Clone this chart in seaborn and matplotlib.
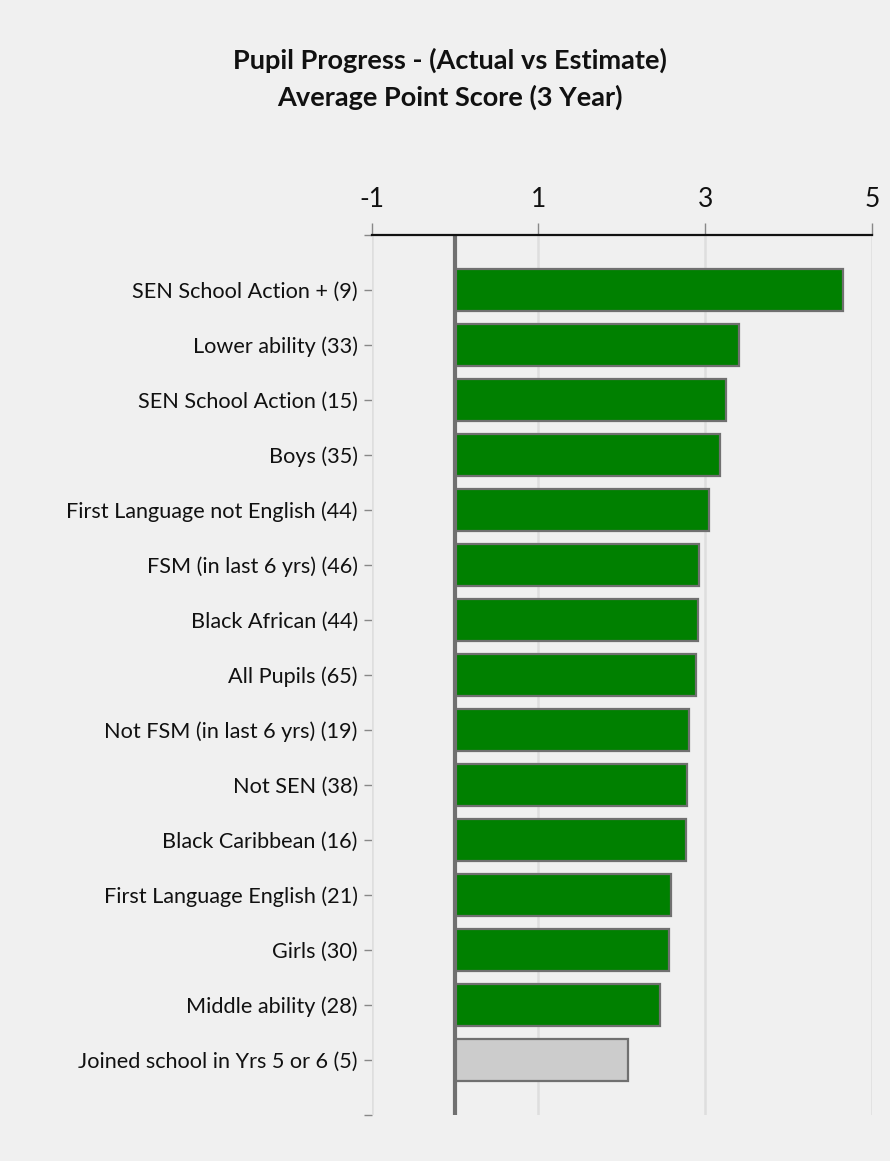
import matplotlib
matplotlib.use("Agg")
import matplotlib.pyplot as plt
import seaborn as sns
import pandas as pd

categories = [
    "SEN School Action + (9)",
    "Lower ability (33)",
    "SEN School Action (15)",
    "Boys (35)",
    "First Language not English (44)",
    "FSM (in last 6 yrs) (46)",
    "Black African (44)",
    "All Pupils (65)",
    "Not FSM (in last 6 yrs) (19)",
    "Not SEN (38)",
    "Black Caribbean (16)",
    "First Language English (21)",
    "Girls (30)",
    "Middle ability (28)",
    "Joined school in Yrs 5 or 6 (5)",
]
scores = [4.65, 3.41, 3.25, 3.18, 3.05, 2.93, 2.91, 2.89, 2.81, 2.78, 2.77, 2.59, 2.57, 2.46, 2.07]
bar_colors = ["#008000"] * 14 + ["#cccccc"]
x_ticks = [-1, 1, 3, 5]

BG = "#f0f0f0"

sns.set_theme(style="white")
plt.rcParams["font.family"] = ["Lato", "DejaVu Sans"]

df = pd.DataFrame({"group": categories, "score": scores})

fig = plt.figure(figsize=(8.9, 11.61), dpi=100, facecolor=BG)
ax = fig.add_axes([0.4176, 0.0396, 0.9798 - 0.4176, 0.7979 - 0.0396])
ax.set_facecolor(BG)

sns.barplot(data=df, x="score", y="group", hue="group", palette=bar_colors,
            saturation=1, legend=False, orient="h", width=0.76,
            edgecolor="#707070", linewidth=1.6, ax=ax, zorder=3)

ax.set_xlim(-1, 5)
ax.set_ylim(15, -1)
ax.set_xticks(x_ticks)
ax.set_xticklabels([str(t) for t in x_ticks])
ax.set_yticks(list(range(-1, 16)))
ax.set_yticklabels([""] + categories + [""])
ax.set_xlabel("")
ax.set_ylabel("")

# grid + zero line
for t in x_ticks:
    ax.axvline(t, color="#dedede", lw=1.8, zorder=1)
ax.axvline(0, color="#707070", lw=3, zorder=4)

for side in ["left", "right", "bottom"]:
    ax.spines[side].set_visible(False)
ax.spines["top"].set_visible(True)
ax.spines["top"].set_color("#111111")
ax.spines["top"].set_linewidth(1.6)
ax.spines["top"].set_zorder(5)

ax.xaxis.tick_top()
ax.tick_params(axis="x", which="both", top=True, bottom=False, direction="out",
               length=8.5, width=1, color="#888888", labelsize=19, pad=8,
               labelcolor="#111111")
ax.tick_params(axis="y", which="both", left=True, direction="out", length=6,
               width=1, color="#888888", labelsize=15.6, pad=4,
               labelcolor="#111111")

fig.text(0.506, 0.932, "Pupil Progress - (Actual vs Estimate)\nAverage Point Score (3 Year)",
         ha="center", va="center", fontsize=19.5, fontweight="bold",
         color="#111111", linespacing=1.55)

fig.savefig("out.png", dpi=100, facecolor=BG)
